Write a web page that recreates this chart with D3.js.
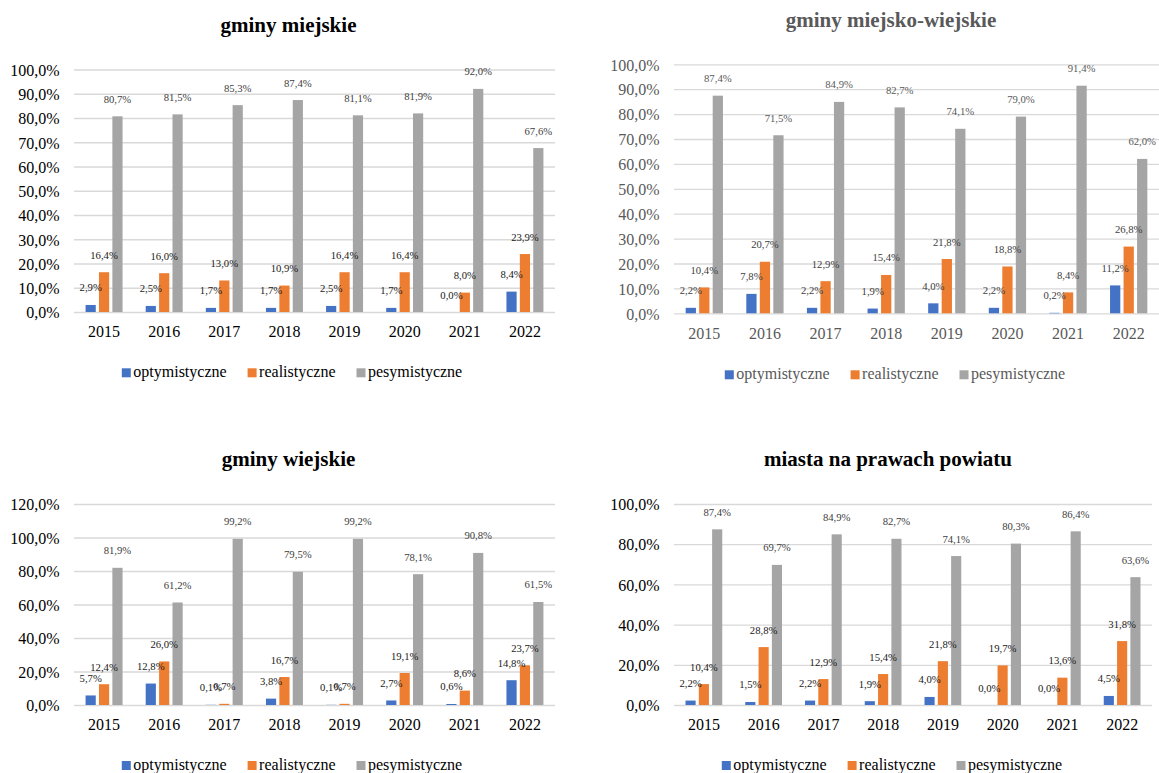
<!DOCTYPE html>
<html>
<head>
<meta charset="utf-8">
<script src="https://cdn.jsdelivr.net/npm/d3@7"></script>
<style>
  body { margin: 0; background: #fff; }
  svg { display: block; }
  text { font-family: "Liberation Serif", "Times New Roman", serif; }
</style>
</head>
<body>
<svg id="chart" width="1159" height="773"></svg>
<script>
// ---- data -------------------------------------------------------------
const years = ["2015", "2016", "2017", "2018", "2019", "2020", "2021", "2022"];
const seriesNames = ["optymistyczne", "realistyczne", "pesymistyczne"];

// gminy miejskie
const miejskieOpt  = [2.9, 2.5, 1.7, 1.7, 2.5, 1.7, 0.0, 8.4];
const miejskieReal = [16.4, 16.0, 13.0, 10.9, 16.4, 16.4, 8.0, 23.9];
const miejskiePes  = [80.7, 81.5, 85.3, 87.4, 81.1, 81.9, 92.0, 67.6];

// gminy miejsko-wiejskie
const miejskoWiejskieOpt  = [2.2, 7.8, 2.2, 1.9, 4.0, 2.2, 0.2, 11.2];
const miejskoWiejskieReal = [10.4, 20.7, 12.9, 15.4, 21.8, 18.8, 8.4, 26.8];
const miejskoWiejskiePes  = [87.4, 71.5, 84.9, 82.7, 74.1, 79.0, 91.4, 62.0];

// gminy wiejskie
const wiejskieOpt  = [5.7, 12.8, 0.1, 3.8, 0.1, 2.7, 0.6, 14.8];
const wiejskieReal = [12.4, 26.0, 0.7, 16.7, 0.7, 19.1, 8.6, 23.7];
const wiejskiePes  = [81.9, 61.2, 99.2, 79.5, 99.2, 78.1, 90.8, 61.5];

// miasta na prawach powiatu
const miastaOpt  = [2.2, 1.5, 2.2, 1.9, 4.0, 0.0, 0.0, 4.5];
const miastaReal = [10.4, 28.8, 12.9, 15.4, 21.8, 19.7, 13.6, 31.8];
const miastaPes  = [87.4, 69.7, 84.9, 82.7, 74.1, 80.3, 86.4, 63.6];

// y-axis tick values for each chart
const ticksMiejskie        = [0, 10, 20, 30, 40, 50, 60, 70, 80, 90, 100];
const ticksMiejskoWiejskie = [0, 10, 20, 30, 40, 50, 60, 70, 80, 90, 100];
const ticksWiejskie        = [0, 20, 40, 60, 80, 100, 120];
const ticksMiasta          = [0, 20, 40, 60, 80, 100];

const charts = [
  { title: "gminy miejskie",            series: [miejskieOpt, miejskieReal, miejskiePes],                      ticks: ticksMiejskie },
  { title: "gminy miejsko-wiejskie",    series: [miejskoWiejskieOpt, miejskoWiejskieReal, miejskoWiejskiePes], ticks: ticksMiejskoWiejskie },
  { title: "gminy wiejskie",            series: [wiejskieOpt, wiejskieReal, wiejskiePes],                      ticks: ticksWiejskie },
  { title: "miasta na prawach powiatu", series: [miastaOpt, miastaReal, miastaPes],                             ticks: ticksMiasta }
];

// ---- layout & style ---------------------------------------------------
const seriesColors = ["#4472C4", "#ED7D31", "#A5A5A5"];
const layouts = [
  { left: 74,  right: 555,  top: 69.5, bottom: 312,   titleX: 288.5, titleY: 31.5, yLabelX: 59.5,  xLabelY: 336.7, legendY: 377.3, legendX: 292, ink: "#000", labelInk: ["#1a1a1a", "#1a1a1a", "#404040"] },
  { left: 674, right: 1159, top: 64.3, bottom: 313.3, titleX: 891,   titleY: 26.5, yLabelX: 659.5, xLabelY: 339,   legendY: 379.3, legendX: 895, ink: "#595959", labelInk: ["#404040", "#404040", "#595959"] },
  { left: 74,  right: 555,  top: 504,  bottom: 705,   titleX: 288.5, titleY: 466,  yLabelX: 59.5,  xLabelY: 730,   legendY: 770,   legendX: 292, ink: "#000", labelInk: ["#1a1a1a", "#1a1a1a", "#404040"] },
  { left: 674, right: 1152, top: 504,  bottom: 705,   titleX: 888,   titleY: 466,  yLabelX: 659.5, xLabelY: 730,   legendY: 770,   legendX: 892, ink: "#000", labelInk: ["#1a1a1a", "#1a1a1a", "#404040"] }
];

const pl = d3.formatLocale({ decimal: ",", thousands: " ", grouping: [3], currency: ["", " zł"] });
const fmt = v => pl.format(".1f")(v) + "%";

const svg = d3.select("#chart");

charts.forEach((c, i) => {
  const L = layouts[i];
  const g = svg.append("g");
  const yMax = c.ticks[c.ticks.length - 1];

  const y = d3.scaleLinear().domain([0, yMax]).range([L.bottom, L.top]);
  const x0 = d3.scaleBand().domain(years).range([L.left, L.right])
    .paddingInner(0.385).paddingOuter(0.1925);
  const x1 = d3.scaleBand().domain(d3.range(seriesNames.length))
    .range([0, x0.bandwidth()]).paddingInner(0.24);

  // title
  g.append("text")
    .attr("x", L.titleX).attr("y", L.titleY)
    .attr("text-anchor", "middle")
    .attr("font-size", 21).attr("font-weight", "bold")
    .attr("fill", L.ink)
    .text(c.title);

  // value axis with gridlines
  const yAxis = g.append("g")
    .attr("transform", `translate(${L.left},0)`)
    .call(d3.axisLeft(y).tickValues(c.ticks).tickFormat(fmt)
      .tickSizeInner(-(L.right - L.left)).tickSizeOuter(0).tickPadding(L.left - L.yLabelX));
  yAxis.select(".domain").remove();
  yAxis.selectAll(".tick line").attr("stroke", "#d9d9d9").attr("stroke-width", 1.3);
  yAxis.selectAll(".tick text")
    .attr("font-size", 16).attr("fill", L.ink)
    .attr("font-family", "'Liberation Serif', 'Times New Roman', serif")
    .attr("dy", "0.36em");

  // category axis
  const xAxis = g.append("g")
    .attr("transform", `translate(0,${L.bottom})`)
    .call(d3.axisBottom(x0).tickSize(0));
  xAxis.select(".domain").remove();
  xAxis.selectAll(".tick text")
    .attr("y", L.xLabelY - L.bottom).attr("dy", 0)
    .attr("font-size", 16).attr("fill", L.ink)
    .attr("font-family", "'Liberation Serif', 'Times New Roman', serif");

  // bars and value labels
  const rows = years.flatMap((yr, k) =>
    c.series.map((vals, s) => ({ year: yr, s, v: vals[k] })));

  g.append("g").selectAll("rect").data(rows).join("rect")
    .attr("x", d => x0(d.year) + x1(d.s))
    .attr("width", x1.bandwidth())
    .attr("y", d => y(d.v))
    .attr("height", d => y(0) - y(d.v))
    .attr("fill", d => seriesColors[d.s]);

  g.append("g").selectAll("text").data(rows).join("text")
    .attr("x", d => x0(d.year) + x1(d.s) + x1.bandwidth() / 2)
    .attr("y", d => y(d.v) - 13.5)
    .attr("text-anchor", "middle")
    .attr("font-size", 10.7)
    .attr("fill", d => L.labelInk[d.s])
    .text(d => fmt(d.v));

  // legend, centred under the chart
  const leg = g.append("g");
  const sq = 9, textGap = 2.5, itemGap = 21;
  const items = seriesNames.map((name, s) => {
    const it = leg.append("g");
    it.append("rect").attr("width", sq).attr("height", sq)
      .attr("y", L.legendY - sq).attr("fill", seriesColors[s]);
    const t = it.append("text").attr("x", sq + textGap).attr("y", L.legendY)
      .attr("font-size", 16).attr("fill", L.ink).text(name);
    return { it, w: sq + textGap + t.node().getComputedTextLength() };
  });
  const total = d3.sum(items, d => d.w) + itemGap * (items.length - 1);
  let cx = L.legendX - total / 2;
  items.forEach(d => { d.it.attr("transform", `translate(${cx},0)`); cx += d.w + itemGap; });
});
</script>
</body>
</html>
